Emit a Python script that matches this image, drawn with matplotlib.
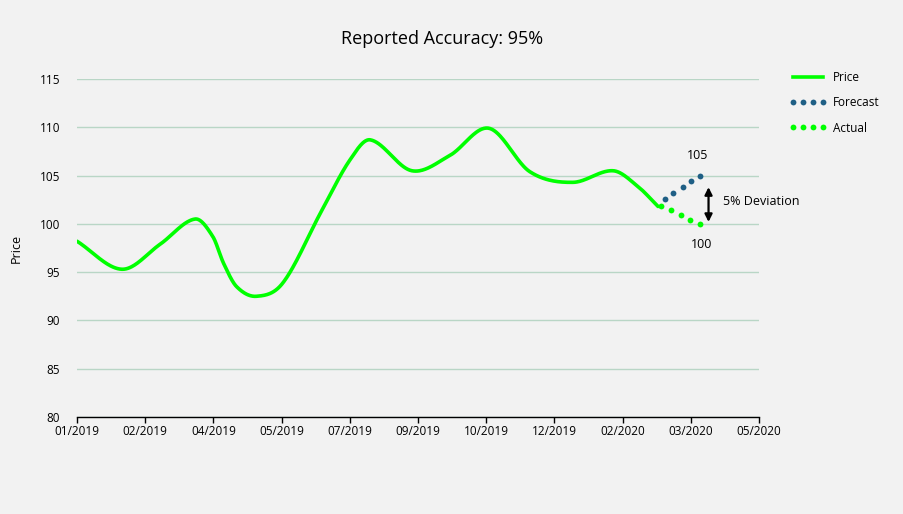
import numpy as np
import matplotlib
matplotlib.use("Agg")
import matplotlib.pyplot as plt
from matplotlib.lines import Line2D

# x positions are in tick-interval units (0 = 01/2019, 10 = 05/2020)
tick_labels = ["01/2019", "02/2019", "04/2019", "05/2019", "07/2019", "09/2019",
               "10/2019", "12/2019", "02/2020", "03/2020", "05/2020"]

price_x = [0, 0.66, 1.22, 1.73, 1.99, 2.15, 2.34, 2.63, 3.02, 3.59, 4.0, 4.30, 4.91,
           5.47, 6.04, 6.64, 7.27, 7.86, 8.22, 8.52]
price_y = [98.2, 95.3, 97.9, 100.5, 98.7, 95.9, 93.5, 92.5, 93.9, 101.4, 106.6, 108.7, 105.5,
           107.1, 109.9, 105.4, 104.3, 105.5, 103.9, 101.8]

forecast_x = [8.62, 8.74, 8.88, 9.00, 9.13]
forecast_y = [102.6, 103.2, 103.8, 104.4, 105.0]
actual_x = [8.57, 8.71, 8.85, 8.99, 9.13]
actual_y = [101.8, 101.4, 100.9, 100.4, 100.0]

GREEN = "#00ff00"
BLUE = "#1f5f85"
BG = "#f2f2f2"


def smooth(xs, ys, n=40):
    # cubic hermite through the points, tangents from neighbours (smoothed line look)
    xs = np.asarray(xs, float)
    ys = np.asarray(ys, float)
    m = np.zeros_like(ys)
    m[1:-1] = (ys[2:] - ys[:-2]) / (xs[2:] - xs[:-2])
    m[0] = (ys[1] - ys[0]) / (xs[1] - xs[0])
    m[-1] = (ys[-1] - ys[-2]) / (xs[-1] - xs[-2])
    ox, oy = [], []
    for i in range(len(xs) - 1):
        h = xs[i + 1] - xs[i]
        t = np.linspace(0, 1, n, endpoint=False)
        h00 = 2 * t**3 - 3 * t**2 + 1
        h10 = t**3 - 2 * t**2 + t
        h01 = -2 * t**3 + 3 * t**2
        h11 = t**3 - t**2
        ox.extend(xs[i] + h * t)
        oy.extend(h00 * ys[i] + h10 * h * m[i] + h01 * ys[i + 1] + h11 * h * m[i + 1])
    ox.append(xs[-1])
    oy.append(ys[-1])
    return np.array(ox), np.array(oy)


plt.rcParams['font.family'] = ['Open Sans', 'DejaVu Sans']

fig = plt.figure(figsize=(9.04, 5.14), dpi=100, facecolor=BG)
ax = fig.add_axes([0.0852, 0.1887, 0.7544, 0.6576], facecolor=BG)

sx, sy = smooth(price_x, price_y)
ax.plot(sx, sy, color=GREEN, lw=2.6, solid_capstyle='round', zorder=3)
ax.plot(forecast_x, forecast_y, ls='none', marker='o', ms=4.2, color=BLUE, mew=0, zorder=4)
ax.plot(actual_x, actual_y, ls='none', marker='o', ms=4.2, color=GREEN, mew=0, zorder=4)

ax.annotate("", xy=(9.26, 103.8), xytext=(9.26, 100.2),
            arrowprops=dict(arrowstyle="<|-|>", color="black", lw=1.6, mutation_scale=11,
                            shrinkA=0, shrinkB=0))
ax.text(9.47, 102.3, "5% Deviation", fontsize=9, va='center', ha='left')
ax.text(9.1, 107.1, "105", fontsize=9, va='center', ha='center')
ax.text(9.16, 97.9, "100", fontsize=9, va='center', ha='center')

ax.set_xlim(0, 10)
ax.set_ylim(80, 115)
ax.set_xticks(range(len(tick_labels)))
ax.set_xticklabels(tick_labels, fontsize=8.5)
ax.set_yticks(range(80, 116, 5))
ax.tick_params(axis='y', length=0, labelsize=8.5, pad=12)
ax.tick_params(axis='x', length=4, width=1, color='black', pad=2)
ax.yaxis.grid(True, color='#b9d6c6', lw=1)
ax.set_axisbelow(True)
for s in ['top', 'right', 'left']:
    ax.spines[s].set_visible(False)
ax.spines['bottom'].set_color('black')
ax.spines['bottom'].set_linewidth(1)
ax.set_ylabel("Price", fontsize=9, labelpad=12)

fig.text(0.489, 0.925, "Reported Accuracy: 95%", fontsize=13, ha='center', va='center')

handles = [Line2D([], [], color=GREEN, lw=2.6),
           Line2D([], [], ls='none', marker='o', ms=4.2, mew=0, color=BLUE),
           Line2D([], [], ls='none', marker='o', ms=4.2, mew=0, color=GREEN)]
fig.legend(handles, ["Price", "Forecast", "Actual"], loc='upper left',
           bbox_to_anchor=(0.861, 0.883), frameon=False, fontsize=8.5,
           numpoints=4, handlelength=3.2, labelspacing=1.05, handletextpad=0.5)

fig.savefig("out.png", dpi=100, facecolor=BG)
